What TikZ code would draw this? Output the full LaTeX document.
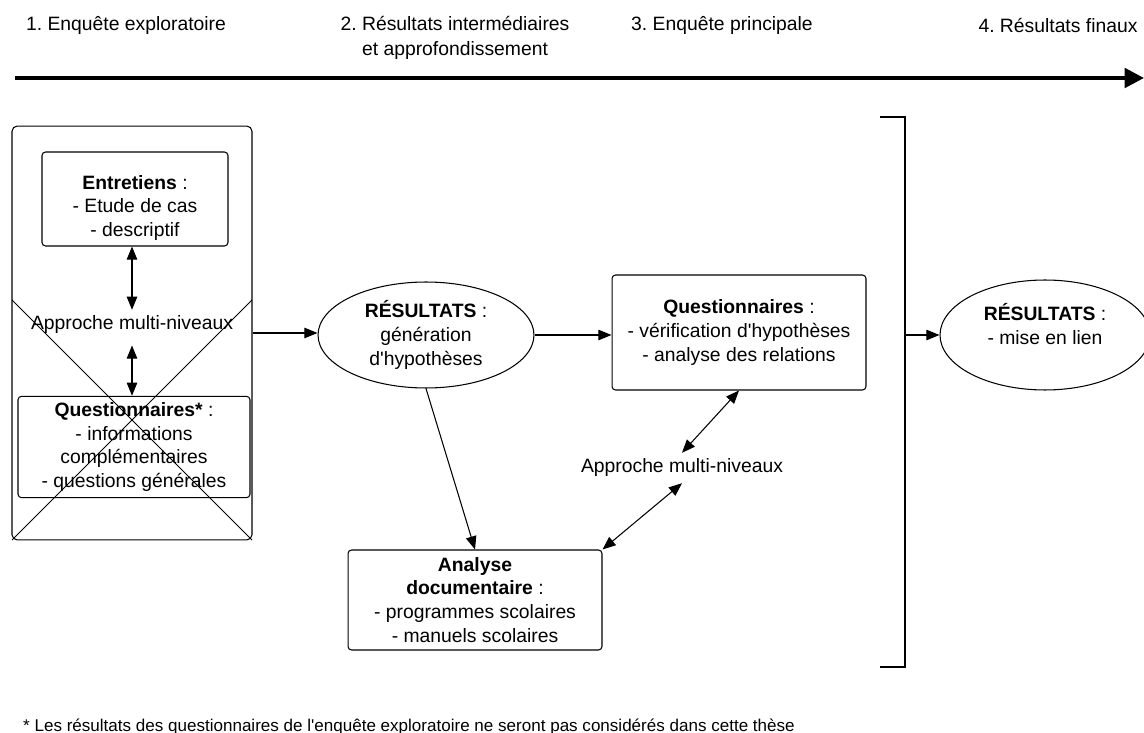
\documentclass[tikz,border=0pt]{standalone}
\usepackage{fontspec}
\newfontfamily\schemafont{Liberation Sans}
\usetikzlibrary{arrows.meta,shapes.geometric}

\begin{document}
\frenchspacing
\begin{tikzpicture}[x=0.02cm, y=-0.02cm,
    every node/.style={font=\schemafont\fontsize{11}{13.6}\selectfont},
    box/.style={draw, rounded corners=2pt, line width=0.6pt, align=center},
    res/.style={draw, ellipse, line width=0.6pt, align=center, inner sep=0pt},
    tip/.style={-{Triangle[length=7.5pt, width=6pt]}, line width=0.6pt},
    twotip/.style={{Triangle[length=7.5pt, width=6pt]}-{Triangle[length=7.5pt, width=6pt]}, line width=0.6pt}]
    \useasboundingbox (0,0) rectangle (1144,733);

    % Phases
    \node (phaseA) at (126,25) {1. Enquête exploratoire};
    \node[align=center, font=\schemafont\fontsize{11}{14}\selectfont] (phaseB) at (455,38) {2. Résultats intermédiaires\\et approfondissement};
    \node (phaseC) at (722,25) {3. Enquête principale};
    \node (phaseD) at (1058,25) {4. Résultats finaux};

    % Time axis
    \coordinate (axisL) at (15,78);
    \coordinate (axisR) at (1144,78);
    \draw[line width=2.3pt, -{Triangle[length=11pt, width=11pt]}] (axisL) -- (axisR);

    % Exploratory survey (crossed out)
    \node[box, rounded corners=3pt, minimum width=4.8cm, minimum height=8.28cm] (explo) at (132,333) {};
    \draw[line width=0.6pt] (12,300) -- (252,540) (252,300) -- (12,540);
    \node[box, minimum width=3.72cm, minimum height=1.88cm] (entretiens) at (135,199) {};
    \node[align=center] (entretiensTxt) at (135,208) {\textbf{Entretiens} :\\- Etude de cas\\- descriptif};
    \node (approcheA) at (132,325) {Approche multi-niveaux};
    \node[box, minimum width=4.64cm, minimum height=2cm] (questExplo) at (134,447) {\textbf{Questionnaires*} :\\- informations\\complémentaires\\- questions générales};
    \draw[twotip] (entretiens.south -| approcheA) -- (approcheA.north);
    \draw[twotip, shorten <=3pt] (approcheA.south) -- (approcheA.south |- questExplo.north);

    % Intermediate results
    \node[res, minimum width=4.32cm, minimum height=2.12cm] (resInter) at (426,335) {\textbf{RÉSULTATS} :\\génération\\d'hypothèses};
    \draw[tip] (explo.east) -- (explo.east -| resInter.west);

    % Main survey
    \node[box, minimum width=5.08cm, minimum height=2.3cm] (questPrinc) at (739,332.5) {\textbf{Questionnaires} :\\- vérification d'hypothèses\\- analyse des relations};
    \draw[tip] (resInter.east) -- (resInter.east -| questPrinc.west);

    % Document analysis
    \node[box, minimum width=5.08cm, minimum height=2cm] (analyse) at (475,600) {\textbf{Analyse}\\\textbf{documentaire} :\\- programmes scolaires\\- manuels scolaires};
    \draw[tip] (resInter.south) -- (analyse.north);

    \node (approcheB) at (682,468) {Approche multi-niveaux};
    \draw[twotip] (questPrinc.south) -- (approcheB.north);
    \draw[twotip] (approcheB.south) -- (analyse.north east);

    % Bracket and final results
    \coordinate (brTop) at (880,117);
    \coordinate (brBot) at (880,667);
    \coordinate (brMid) at (905,335);
    \draw[line width=1.4pt] (brTop) -- (905,117) -- (905,667) -- (brBot);
    \node[res, minimum width=4.2cm, minimum height=2.2cm] (resFinal) at (1045,335) {};
    \node[align=center] (resFinalTxt) at (1045,324) {\textbf{RÉSULTATS} :\\- mise en lien};
    \draw[tip] (brMid) -- (resFinal.west);

    % Footnote
    \node[anchor=base west, font=\schemafont\fontsize{9.7}{11}\selectfont] (note) at (17,731) {* Les résultats des questionnaires de l'enquête exploratoire ne seront pas considérés dans cette thèse};

\end{tikzpicture}
\end{document}
